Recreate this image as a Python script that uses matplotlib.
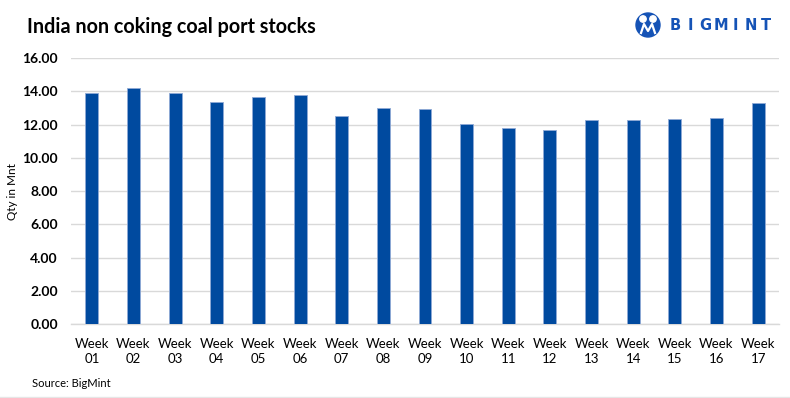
import matplotlib
matplotlib.use("Agg")
import matplotlib.pyplot as plt
from matplotlib.patches import Circle

plt.rcParams["font.family"] = ["Lato", "DejaVu Sans"]

weeks = ["01", "02", "03", "04", "05", "06", "07", "08", "09",
         "10", "11", "12", "13", "14", "15", "16", "17"]
stocks = [13.92, 14.22, 13.88, 13.34, 13.64, 13.76, 12.54, 13.02, 12.91,
          12.06, 11.82, 11.70, 12.28, 12.28, 12.34, 12.38, 13.31]
yticks = [0, 2, 4, 6, 8, 10, 12, 14, 16]

BAR_BLUE = "#004a9f"
GRID = "#d9d9d9"

fig = plt.figure(figsize=(7.9, 3.98), dpi=100)
ax = fig.add_axes([0.0899, 0.1852, 0.8961, 0.6691])

x = range(len(weeks))
ax.bar(x, stocks, width=0.31, color=BAR_BLUE, edgecolor="#8fa9d6", linewidth=0.6, zorder=3)

ax.set_xlim(-0.5, len(weeks) - 0.5)
ax.set_ylim(0, 16)
ax.set_yticks(yticks)
ax.set_yticklabels([f"{v:.2f}" for v in yticks], fontsize=10, fontweight="bold")
ax.set_xticks(list(x))
ax.set_xticklabels([f"Week\n{w}" for w in weeks], fontsize=9.5, linespacing=1.3)
ax.tick_params(axis="both", length=0, colors="black")
ax.tick_params(axis="x", pad=10)
ax.tick_params(axis="y", pad=9.5)
ax.grid(axis="y", color=GRID, linewidth=1.0, zorder=0)
for s in ["top", "right", "left"]:
    ax.spines[s].set_visible(False)
ax.spines["bottom"].set_color(GRID)
ax.spines["bottom"].set_linewidth(1.0)

fig.text(12 / 790, 1 - 192 / 398, "Qty in Mnt", rotation=90, fontsize=8.5,
         ha="center", va="center")

fig.text(27 / 790, 1 - 33 / 398, "India non coking coal port stocks",
         fontsize=14.2, fontweight="bold", ha="left", va="baseline")
fig.text(32 / 790, 1 - 387 / 398, "Source: BigMint", fontsize=8,
         ha="left", va="baseline")

# logo
logo_blue = "#1553b6"
logo_ax = fig.add_axes([0, 0, 1, 1], facecolor="none")
logo_ax.set_xlim(0, 790)
logo_ax.set_ylim(398, 0)
logo_ax.axis("off")
logo_ax.add_patch(Circle((648, 25), 12, color=logo_blue))
logo_ax.add_patch(Circle((643, 19), 3.2, color="white"))
logo_ax.add_patch(Circle((653, 19), 3.2, color="white"))
logo_ax.plot([641, 644, 648, 652, 655], [33, 24, 31, 24, 33], color="white", lw=1.6)
for i, ch in enumerate("BIGMINT"):
    logo_ax.text(675 + i * 15.2, 25, ch, fontsize=10.5, fontweight="heavy",
                 color=logo_blue, ha="center", va="center", family="DejaVu Sans")

logo_ax.plot([0, 790], [396.5, 396.5], color="#e6e6e6", lw=1)

fig.savefig("out.png", dpi=100)
